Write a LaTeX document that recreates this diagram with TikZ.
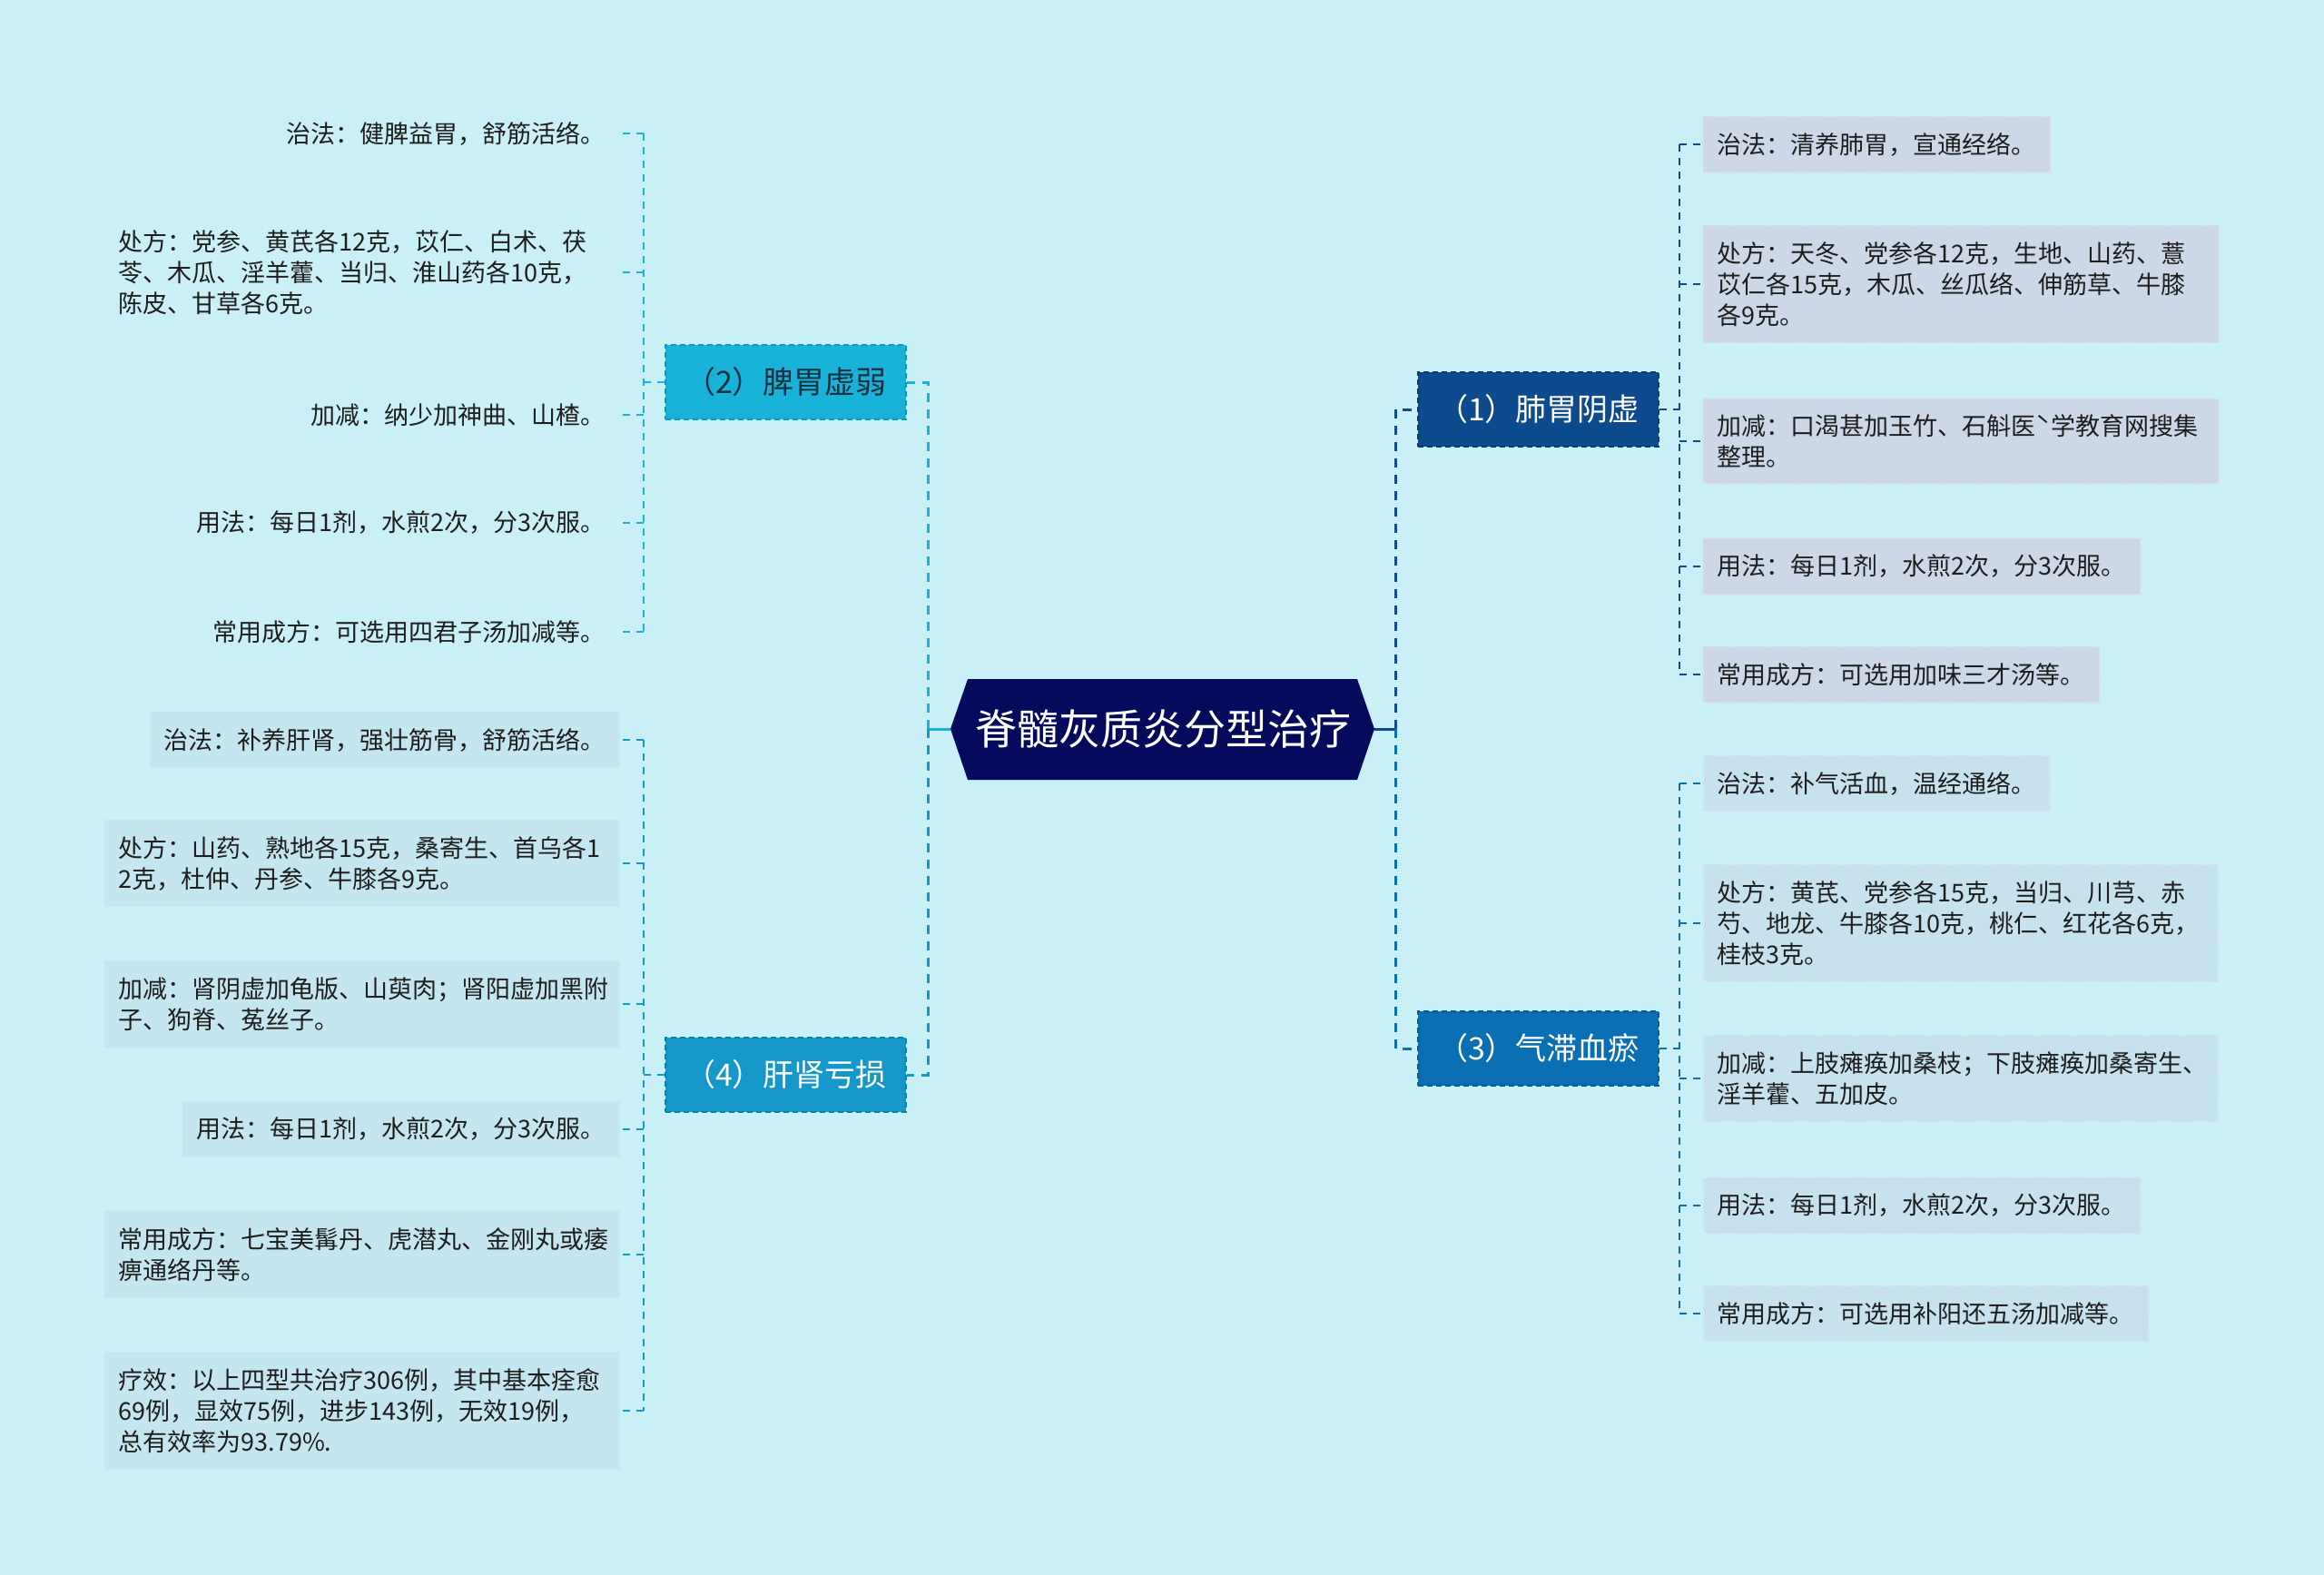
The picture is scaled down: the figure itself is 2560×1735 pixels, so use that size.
\documentclass[tikz,border=0pt]{standalone}
\usepackage{fontspec}
\setmainfont{Noto Sans CJK SC}
\usetikzlibrary{calc}
\definecolor{bg}{HTML}{C9EFF7}
\definecolor{navy}{HTML}{060A5C}
\definecolor{bOne}{HTML}{0E4B8E}
\definecolor{bOneD}{HTML}{0A3A72}
\definecolor{bThree}{HTML}{0A70B3}
\definecolor{bThreeD}{HTML}{085C96}
\definecolor{bTwo}{HTML}{19B2D8}
\definecolor{bTwoD}{HTML}{0E98C0}
\definecolor{bFour}{HTML}{1697C9}
\definecolor{bFourD}{HTML}{107FAE}
\definecolor{lfOne}{HTML}{CCD8E8}
\definecolor{lfOneB}{HTML}{D8E2EE}
\definecolor{lfThree}{HTML}{C6E2EE}
\definecolor{lfThreeB}{HTML}{D2EAF3}
\definecolor{lfFour}{HTML}{C4E6F0}
\definecolor{txt}{HTML}{1E1E1E}
\definecolor{txtTwo}{HTML}{16313F}
\newcommand\leaffont{\fontsize{13.5pt}{17pt}\selectfont}
\newcommand\branchfont{\fontsize{17pt}{20pt}\selectfont}
\newcommand\rootfont{\fontsize{23pt}{27pt}\selectfont}
\tikzset{
  leafbase/.style={font=\leaffont, text=txt, align=left, inner xsep=8pt, inner ysep=9pt, minimum height=30.5pt},
  multi/.style={text width=268pt},
  leafR/.style={leafbase, anchor=west},
  leafL/.style={leafbase, anchor=east},
  boxOne/.style={fill=lfOne, draw=lfOneB, dashed, dash pattern=on 3pt off 2pt, line width=0.8pt},
  boxThree/.style={fill=lfThree, draw=lfThreeB, dashed, dash pattern=on 3pt off 2pt, line width=0.8pt},
  boxFour/.style={fill=lfFour},
  branch/.style={font=\branchfont, minimum width=132.5pt, minimum height=41pt, inner sep=0pt, dashed, dash pattern=on 3pt off 2pt, line width=0.8pt},
  trunk/.style={line width=1.5pt, dash pattern=on 5pt off 4pt},
  twig/.style={line width=1pt, dash pattern=on 4pt off 3.5pt},
}
\begin{document}
\begin{tikzpicture}[x=0.5pt,y=-0.5pt]
\fill[bg] (0,0) rectangle (2560,1735);
\useasboundingbox (0,0) rectangle (2560,1735);

% root
\coordinate (cL) at (1047,803);
\coordinate (cR) at (1514,803);
\fill[navy] (1066,748) -- (1495,748) -- (cR) -- (1495,859) -- (1066,859) -- (cL) -- cycle;
\node[font=\rootfont, text=white, inner sep=0pt] (c) at (1281,803) {脊髓灰质炎分型治疗};

% branches
\node[branch, fill=bOne, draw=bOneD, text=white] (n1) at (1694.5,451) {（1）肺胃阴虚};
\node[branch, fill=bThree, draw=bThreeD, text=white] (n3) at (1694.5,1155) {（3）气滞血瘀};
\node[branch, fill=bTwo, draw=bTwoD, text=txtTwo] (n2) at (865.5,421) {（2）脾胃虚弱};
\node[branch, fill=bFour, draw=bFourD, text=white] (n4) at (865.5,1184) {（4）肝肾亏损};

\coordinate (tR) at (1537,803);
\coordinate (tL) at (1022,803);
\draw[line width=1.5pt, bOne] (cR) -- (tR);
\draw[trunk, bOne] (tR) |- (n1.west);
\draw[trunk, bThree] (tR) |- (n3.west);
\draw[line width=1.5pt, bTwo] (cL) -- (tL);
\draw[trunk, bTwo] (tL) |- (n2.east);
\draw[trunk, bFour] (tL) |- (n4.east);

% right leaves of (1)
\node[leafR, boxOne] (r11) at (1875,159) {治法：清养肺胃，宣通经络。};
\node[leafR, boxOne, multi] (r12) at (1875,313) {处方：天冬、党参各12克，生地、山药、薏\\苡仁各15克，木瓜、丝瓜络、伸筋草、牛膝\\各9克。};
\node[leafR, boxOne, multi] (r13) at (1875,486) {加减：口渴甚加玉竹、石斛医ˋ学教育网搜集\\整理。};
\node[leafR, boxOne] (r14) at (1875,624) {用法：每日1剂，水煎2次，分3次服。};
\node[leafR, boxOne] (r15) at (1875,743) {常用成方：可选用加味三才汤等。};
\coordinate (t1) at (1850,451);
\draw[twig, bOne] (n1.east) -- (t1);
\draw[twig, bOne] (t1 |- r11.west) -- (t1 |- r15.west);
\foreach \k in {r11,r12,r13,r14,r15} \draw[twig, bOne] (t1 |- \k.west) -- (\k.west);

% right leaves of (3)
\node[leafR, boxThree] (r31) at (1875,863) {治法：补气活血，温经通络。};
\node[leafR, boxThree, multi] (r32) at (1875,1017) {处方：黄芪、党参各15克，当归、川芎、赤\\芍、地龙、牛膝各10克，桃仁、红花各6克，\\桂枝3克。};
\node[leafR, boxThree, multi] (r33) at (1875,1188) {加减：上肢瘫痪加桑枝；下肢瘫痪加桑寄生、\\淫羊藿、五加皮。};
\node[leafR, boxThree] (r34) at (1875,1328) {用法：每日1剂，水煎2次，分3次服。};
\node[leafR, boxThree] (r35) at (1875,1447) {常用成方：可选用补阳还五汤加减等。};
\coordinate (t3) at (1850,1155);
\draw[twig, bThree] (n3.east) -- (t3);
\draw[twig, bThree] (t3 |- r31.west) -- (t3 |- r35.west);
\foreach \k in {r31,r32,r33,r34,r35} \draw[twig, bThree] (t3 |- \k.west) -- (\k.west);

% left leaves of (2)
\node[leafL] (l21) at (683,147) {治法：健脾益胃，舒筋活络。};
\node[leafL, multi] (l22) at (683,300) {处方：党参、黄芪各12克，苡仁、白术、茯\\苓、木瓜、淫羊藿、当归、淮山药各10克，\\陈皮、甘草各6克。};
\node[leafL] (l23) at (683,457) {加减：纳少加神曲、山楂。};
\node[leafL] (l24) at (683,576) {用法：每日1剂，水煎2次，分3次服。};
\node[leafL] (l25) at (683,696) {常用成方：可选用四君子汤加减等。};
\coordinate (t2) at (709,421);
\draw[twig, bTwo] (n2.west) -- (t2);
\draw[twig, bTwo] (t2 |- l21.east) -- (t2 |- l25.east);
\foreach \k in {l21,l22,l23,l24,l25} \draw[twig, bTwo] (t2 |- \k.east) -- (\k.east);

% left leaves of (4)
\node[leafL, boxFour] (l41) at (683,815) {治法：补养肝肾，强壮筋骨，舒筋活络。};
\node[leafL, boxFour, multi] (l42) at (683,951) {处方：山药、熟地各15克，桑寄生、首乌各1\\2克，杜仲、丹参、牛膝各9克。};
\node[leafL, boxFour, multi] (l43) at (683,1106) {加减：肾阴虚加龟版、山萸肉；肾阳虚加黑附\\子、狗脊、菟丝子。};
\node[leafL, boxFour] (l44) at (683,1244) {用法：每日1剂，水煎2次，分3次服。};
\node[leafL, boxFour, multi] (l45) at (683,1382) {常用成方：七宝美髯丹、虎潜丸、金刚丸或痿\\痹通络丹等。};
\node[leafL, boxFour, multi] (l46) at (683,1554) {疗效：以上四型共治疗306例，其中基本痊愈\\69例，显效75例，进步143例，无效19例，\\总有效率为93.79\%.};
\coordinate (t4) at (709,1184);
\draw[twig, bFour] (n4.west) -- (t4);
\draw[twig, bFour] (t4 |- l41.east) -- (t4 |- l46.east);
\foreach \k in {l41,l42,l43,l44,l45,l46} \draw[twig, bFour] (t4 |- \k.east) -- (\k.east);
\end{tikzpicture}
\end{document}
